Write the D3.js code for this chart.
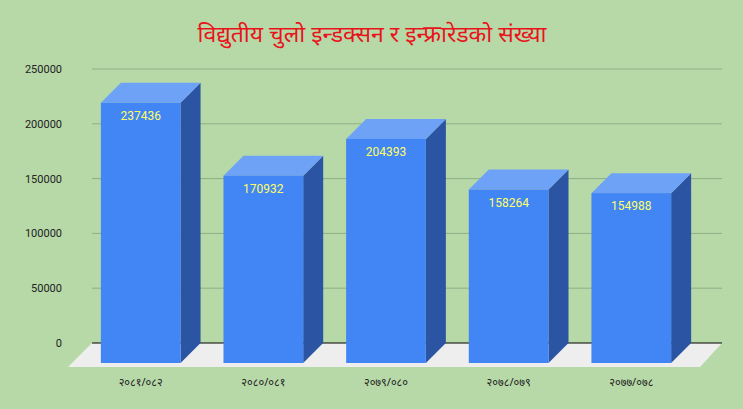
<!DOCTYPE html>
<html><head><meta charset="utf-8">
<script src="https://cdn.jsdelivr.net/npm/d3@7"></script>
<style>body{margin:0;background:#b7d9a8}</style></head>
<body><svg id="c" width="743" height="409"></svg>
<script>
const categories=["२०८१/०८२","२०८०/०८१","२०७९/०८०","२०७८/०७९","२०७७/०७८"];
const values=[237436,170932,204393,158264,154988];
const yTicks=[0,50000,100000,150000,200000,250000];
const title="विद्युतीय चुलो इन्डक्सन र इन्फ्रारेडको संख्या";

const svg=d3.select("#c");
svg.append("rect").attr("width",743).attr("height",409).attr("fill","#b7d9a8");
const dx=20,dy=20;
const y=d3.scaleLinear().domain([0,250000]).range([343,69]);
const x=d3.scaleBand().domain(categories).range([80,692]).paddingInner(0.35).paddingOuter(0.17);
// grid
svg.append("g").selectAll("line").data(yTicks.filter(d=>d>0)).join("line")
 .attr("x1",92).attr("x2",722).attr("y1",d=>y(d)).attr("y2",d=>y(d)).attr("stroke","#8fae86");
// floor
svg.append("path").attr("d",`M92,343 L722,343 L700,367 L68,367 Z`).attr("fill","#eeeeee");
svg.append("line").attr("x1",92).attr("x2",722).attr("y1",343).attr("y2",343).attr("stroke","#000");
// y labels
svg.append("g").selectAll("text").data(yTicks).join("text")
 .attr("x",62).attr("y",d=>y(d)+4).attr("text-anchor","end")
 .attr("font-family","Roboto, sans-serif").attr("font-size",11).attr("fill","#222").text(d=>d);
// bars
const g=svg.append("g");
categories.forEach((c,i)=>{
 const x0=x(c),w=x.bandwidth(),yt=y(values[i])+dy,yb=y(0)+dy;
 g.append("path").attr("d",`M${x0+w},${yt} L${x0+w+dx},${yt-dy} L${x0+w+dx},${yb-dy} L${x0+w},${yb} Z`).attr("fill","#2b54a3");
 g.append("path").attr("d",`M${x0},${yt} L${x0+dx},${yt-dy} L${x0+w+dx},${yt-dy} L${x0+w},${yt} Z`).attr("fill","#6ea2f7");
 g.append("rect").attr("x",x0).attr("y",yt).attr("width",w).attr("height",yb-yt).attr("fill","#4285f4");
 g.append("text").attr("x",x0+w/2).attr("y",yt+17).attr("text-anchor","middle")
  .attr("font-family","Roboto, sans-serif").attr("font-size",12).attr("fill","#ffff66").text(values[i]);
 g.append("text").attr("x",x0+w/2).attr("y",386).attr("text-anchor","middle")
  .attr("font-family","Noto Sans, sans-serif").attr("font-size",11).attr("fill","#222").text(c);
});
svg.append("text").attr("x",372).attr("y",42).attr("text-anchor","middle")
 .attr("font-family","Noto Sans, sans-serif").attr("font-size",23).attr("fill","#e8141b").text(title);
</script></body></html>
